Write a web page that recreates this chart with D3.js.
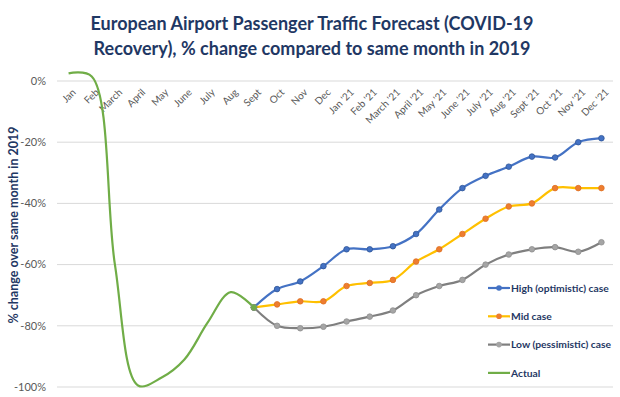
<!DOCTYPE html>
<html><head><meta charset="utf-8">
<script src="https://cdn.jsdelivr.net/npm/d3@7"></script>
<style>html,body{margin:0;padding:0;background:#fff}svg{display:block}</style>
</head><body><svg id="c" width="620" height="397"></svg>
<script>
const categories = ["Jan","Feb","March","April","May","June","July","Aug","Sept","Oct","Nov","Dec",
 "Jan '21","Feb '21","March '21","April '21","May '21","June '21","July '21","Aug '21","Sept '21","Oct '21","Nov '21","Dec '21"];
const actual = [2.5, 1.5, -60, -99.5, -97, -91, -79, -69, -74];
const actualStart = 0;
const forecastStart = 8;
const highCase = [-74, -68, -65.5, -60.5, -55, -55, -54, -50, -42, -35, -31, -28, -24.7, -25, -20, -18.7];
const midCase  = [-74, -73, -72, -72, -67, -66, -65, -59, -55, -50, -45, -41, -40, -35, -35, -35];
const lowCase  = [-74, -80, -80.8, -80.3, -78.6, -77, -75, -70, -67, -65, -60, -56.7, -55, -54.3, -55.8, -52.7];
const yTicks = [0, -20, -40, -60, -80, -100];
const legendLabels = ["High (optimistic) case", "Mid case", "Low (pessimistic) case", "Actual"];
const titleLines = ["European Airport Passenger Traffic Forecast (COVID-19", "Recovery), % change compared to same month in 2019"];
const yTitle = "% change over same month in 2019";

const svg = d3.select("#c");
const font = "Lato, 'Open Sans', sans-serif";
const navy = "#1F3864";
const x = d3.scalePoint().domain(categories).range([57, 613]).padding(0.5);
const y = d3.scaleLinear().domain([-100, 0]).range([387, 81]);

// title
svg.append("g").selectAll("text").data(titleLines).join("text")
  .attr("x", 312).attr("y", (d,i)=>30 + i*25)
  .attr("text-anchor","middle").attr("font-family", font).attr("font-weight","bold")
  .attr("font-size", 18).attr("fill", navy).text(d=>d);

// gridlines
svg.append("g").selectAll("line").data(yTicks).join("line")
  .attr("x1",57).attr("x2",613).attr("y1",d=>y(d)).attr("y2",d=>y(d))
  .attr("stroke","#D9D9D9").attr("stroke-width",1);

// y axis labels
svg.append("g").selectAll("text").data(yTicks).join("text")
  .attr("x",46).attr("y",d=>y(d)).attr("dy","0.35em").attr("text-anchor","end")
  .attr("font-family",font).attr("font-size",11).attr("fill","#595959").text(d=>d+"%");

// y title
svg.append("text").attr("transform","translate(18,225) rotate(-90)")
  .attr("text-anchor","middle").attr("font-family",font).attr("font-weight","bold")
  .attr("font-size",12.5).attr("fill",navy).text(yTitle);

// x labels
svg.append("g").selectAll("text").data(categories).join("text")
  .attr("transform", d=>`translate(${x(d)+3},88) rotate(-45)`)
  .attr("text-anchor","end").attr("dy","0.7em").attr("font-family",font).attr("font-size",10)
  .attr("fill","#595959").text(d=>d);

const curve = d3.curveCatmullRom.alpha(0.5);
const fc = categories.slice(forecastStart);
function series(vals, cats, color, marker, mstroke){
  const line = d3.line().x((d,i)=>x(cats[i])).y(d=>y(d)).curve(curve);
  svg.append("path").attr("d", line(vals)).attr("fill","none").attr("stroke",color).attr("stroke-width",2.2);
  if (marker) svg.append("g").selectAll("circle").data(vals).join("circle")
    .attr("cx",(d,i)=>x(cats[i])).attr("cy",d=>y(d)).attr("r",2.8)
    .attr("fill",marker).attr("stroke",mstroke).attr("stroke-width",0.8);
}
series(lowCase, fc, "#7F7F7F", "#A5A5A5", "#8f8f8f");
series(midCase, fc, "#FFC000", "#ED7D31", "#e07020");
series(highCase, fc, "#4472C4", "#4472C4", "#2f5597");
const ac = categories.slice(actualStart, actualStart+actual.length);
series(actual, ac, "#70AD47", null);
svg.append("circle").attr("cx",x(categories[forecastStart])).attr("cy",y(actual[actual.length-1])).attr("r",3)
  .attr("fill","#70AD47").attr("stroke","#7f9f6f");

// legend
const lc = [["#4472C4","#4472C4"],["#FFC000","#ED7D31"],["#7F7F7F","#A5A5A5"],["#70AD47",null]];
const lg = svg.append("g");
legendLabels.forEach((t,i)=>{
  const yy = 288 + i*28.3;
  lg.append("line").attr("x1",488).attr("x2",510).attr("y1",yy).attr("y2",yy).attr("stroke",lc[i][0]).attr("stroke-width",2.2);
  if (lc[i][1]) lg.append("circle").attr("cx",499).attr("cy",yy).attr("r",2.8).attr("fill",lc[i][1]);
  lg.append("text").attr("x",511).attr("y",yy).attr("dy","0.35em").attr("font-family",font)
    .attr("font-weight","bold").attr("font-size",10.3).attr("fill",navy).text(t);
});
</script></body></html>
